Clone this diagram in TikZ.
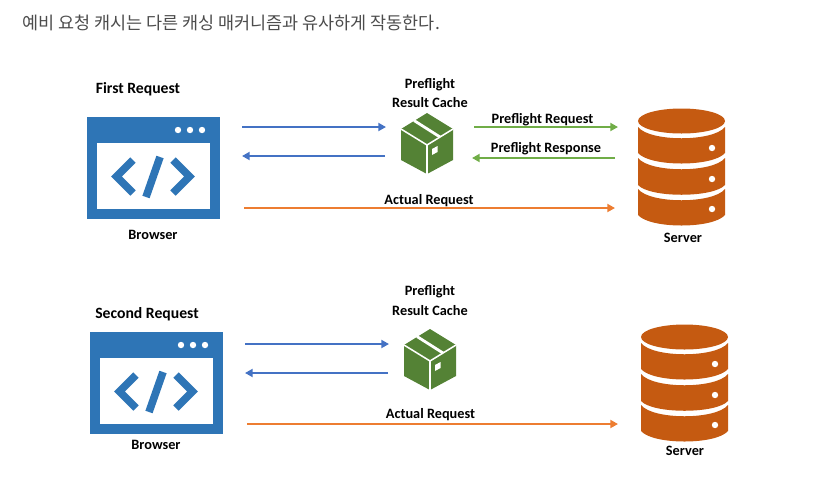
\documentclass[tikz,border=0pt]{standalone}
\usepackage{fontspec}
\setmainfont{Carlito}
\newfontfamily\krfont{Noto Sans CJK KR}
\usepackage{xcolor}
\usetikzlibrary{arrows.meta}
\definecolor{browserblue}{HTML}{2E75B6}
\definecolor{arrowblue}{HTML}{4472C4}
\definecolor{boxgreen}{HTML}{548235}
\definecolor{arrowgreen}{HTML}{70AD47}
\definecolor{arroworange}{HTML}{ED7D31}
\definecolor{serverbrown}{HTML}{C55A11}
\tikzset{
  label/.style={font=\fontsize{12.2pt}{14pt}\selectfont\bfseries,text=black,inner sep=0pt,yshift=-0.6pt},
  heading/.style={font=\fontsize{13.4pt}{15pt}\selectfont\bfseries,text=black,inner sep=0pt,yshift=-0.6pt},
  flow/.style={line width=1.6pt,-{Triangle[length=2.3mm,width=2.4mm]}},
  browser/.pic={
    \fill[browserblue] (87,117) rectangle (220,219);
    \fill[white] (97,143) rectangle (210,209);
    \fill[white] (178,130) circle (3.2) (190,130) circle (3.2) (202,130) circle (3.2);
    \draw[browserblue,line width=6.5pt] (133,160) -- (116.5,176.5) -- (133,193);
    \draw[browserblue,line width=6.5pt] (173,160) -- (189.5,176.5) -- (173,193);
    \draw[browserblue,line width=6.5pt] (160,157) -- (146,197);
  },
  cachebox/.pic={
    \fill[boxgreen] (427,113) -- (453,129) -- (453,160) -- (427,174) -- (401,160) -- (401,129) -- cycle;
    \draw[white,line width=1.3pt] (401,129) -- (427,145) -- (453,129) (427,145) -- (427,175);
    \draw[white,line width=2.4pt] (414,120.5) -- (440,137);
    \fill[white] (432,149) -- (437.5,146) -- (437.5,152) -- (432,155) -- cycle;
  },
  server/.pic={
    \fill[serverbrown] (681.5,121) ellipse (43.5 and 12.5);
    \fill[serverbrown] (638,127) .. controls (650,142) and (713,142) .. (725,127) -- (725,153) .. controls (713,167) and (650,167) .. (638,153) -- cycle;
    \fill[serverbrown] (638,158) .. controls (650,173) and (713,173) .. (725,158) -- (725,185) .. controls (713,198) and (650,198) .. (638,185) -- cycle;
    \fill[serverbrown] (638,189) .. controls (650,204) and (713,204) .. (725,189) -- (725,215) .. controls (713,229) and (650,229) .. (638,215) -- cycle;
    \fill[white] (712,148) circle (3.2) (712,179) circle (3.2) (712,209) circle (3.2);
  }
}
\begin{document}
\begin{tikzpicture}[x=0.3mm,y=-0.3mm]
  \useasboundingbox (0,0) rectangle (830,481);
  \node[anchor=west,inner sep=0pt,text=black!70] (title) at (22,23) {\krfont\fontsize{14.9pt}{17pt}\selectfont 예비 요청 캐시는 다른 캐싱 매커니즘과 유사하게 작동한다.};

  % first request
  \node[heading] (first) at (138,89) {First Request};
  \pic at (0,0) {browser};
  \node[label] (browser1) at (153,234) {Browser};
  \node[label] (cache1a) at (430,83.5) {Preflight};
  \node[label] (cache1b) at (430,102) {Result Cache};
  \pic at (0,0) {cachebox};
  \pic at (0,0) {server};
  \node[label] (server1) at (683,237) {Server};
  \coordinate (a1) at (242,127);
  \coordinate (b1) at (386,127);
  \coordinate (c1) at (385,156);
  \coordinate (d1) at (242,156);
  \coordinate (e1) at (474,127);
  \coordinate (f1) at (618,127);
  \coordinate (g1) at (615,158);
  \coordinate (h1) at (472,158);
  \coordinate (i1) at (244,208);
  \coordinate (j1) at (615,208);
  \draw[flow,arrowblue] (a1) -- (b1);
  \draw[flow,arrowblue] (c1) -- (d1);
  \draw[flow,arrowgreen] (e1) -- (f1);
  \draw[flow,arrowgreen] (g1) -- (h1);
  \draw[flow,arroworange] (i1) -- (j1);
  \node[label] (preq) at (542.5,118.5) {Preflight Request};
  \node[label] (pres) at (546,148) {Preflight Response};
  \node[label] (act1) at (429,200) {Actual Request};

  % second request
  \node[heading] (second) at (147,314) {Second Request};
  \pic at (3,215) {browser};
  \node[label] (browser2) at (156,444.5) {Browser};
  \node[label] (cache2a) at (430,291) {Preflight};
  \node[label] (cache2b) at (430,309.5) {Result Cache};
  \pic at (3,216) {cachebox};
  \pic at (3,216) {server};
  \node[label] (server2) at (685,450.5) {Server};
  \coordinate (a2) at (245,344);
  \coordinate (b2) at (389,344);
  \coordinate (c2) at (388,373);
  \coordinate (d2) at (245,373);
  \coordinate (i2) at (247,424);
  \coordinate (j2) at (618,424);
  \draw[flow,arrowblue] (a2) -- (b2);
  \draw[flow,arrowblue] (c2) -- (d2);
  \draw[flow,arroworange] (i2) -- (j2);
  \node[label] (act2) at (430.5,414) {Actual Request};
\end{tikzpicture}
\end{document}
